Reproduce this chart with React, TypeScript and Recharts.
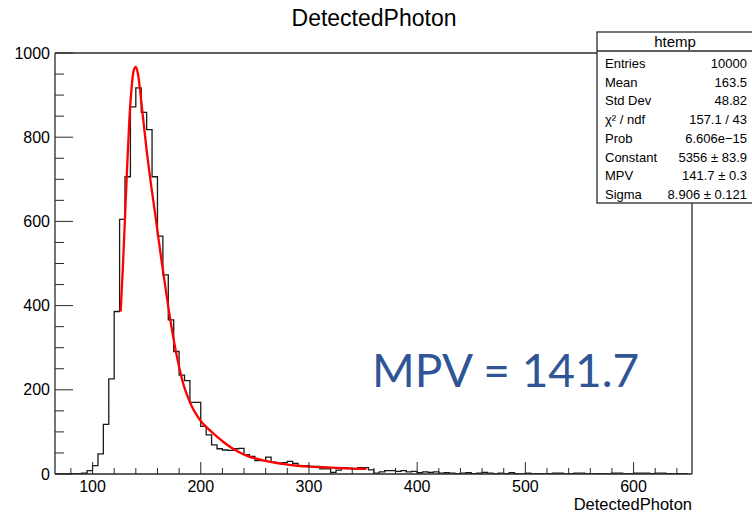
import React from "react";
import { ComposedChart, Line, XAxis, YAxis, ReferenceLine } from "recharts";

// Histogram bins (lower edges) and counts
const BIN_LOW = [
  65, 70, 75, 80, 85, 90, 95, 100, 105, 110, 115, 120, 125, 130, 135, 140, 145, 150, 155, 160,
  165, 170, 175, 180, 185, 190, 195, 200, 205, 210, 215, 220, 225, 230, 235, 240, 245, 250, 255, 260,
  265, 270, 275, 280, 285, 290, 295, 300, 305, 310, 315, 320, 325, 330, 335, 340, 345, 350, 355, 360,
  365, 370, 375, 380, 385, 390, 395, 400, 405, 410, 415, 420, 425, 430, 435, 440, 445, 450, 455, 460,
  465, 470, 475, 480, 485, 490, 495, 500, 505, 510, 515, 520, 525, 530, 535, 540, 545, 550, 555, 560,
  565, 570, 575, 580, 585, 590, 595, 600, 605, 610, 615, 620, 625, 630, 635, 640, 645,
];
const COUNTS = [
  0, 0, 1, 0, 1, 2, 8, 20, 48, 118, 226, 386, 605, 706, 872, 917, 859, 818, 706, 565,
  473, 366, 291, 235, 222, 170, 170, 113, 93, 69, 60, 57, 56, 60, 61, 46, 42, 32, 32, 40,
  28, 26, 27, 30, 25, 20, 20, 18, 18, 12, 12, 4, 9, 15, 14, 12, 15, 15, 10, 2,
  5, 8, 8, 6, 8, 5, 6, 3, 5, 4, 5, 2, 3, 2, 1, 2, 3, 1, 2, 4,
  2, 1, 2, 1, 3, 1, 0, 2, 1, 1, 0, 1, 2, 2, 0, 1, 2, 2, 1, 0,
  1, 1, 1, 2, 2, 1, 1, 2, 2, 2, 1, 2, 2, 1, 0, 1, 1,
];
const HIST_END = 650;

// Landau fit curve
const FIT_X = [
  126, 128, 130, 132, 134, 136, 138, 140, 142, 144, 146, 148, 150, 152, 155, 158, 160, 164, 168, 172,
  176, 180, 184, 188, 192, 196, 200, 205, 210, 215, 221, 228, 236, 244, 252, 260, 268, 276, 284, 292,
  300, 313, 329, 353,
];
const FIT_Y = [
  386, 490, 610, 730, 840, 915, 958, 967, 950, 910, 862, 815, 769, 727, 670, 615, 577, 502, 432, 364,
  305, 254, 213, 183, 159, 141, 126, 112, 100, 89, 76, 63, 51, 42, 36, 31, 27, 24, 21, 19,
  17.5, 16, 14, 12,
];

const X_DOMAIN: [number, number] = [65.3, 654];
const Y_DOMAIN: [number, number] = [0, 1000];
const X_TICKS = [80, 100, 120, 140, 160, 180, 200, 220, 240, 260, 280, 300, 320, 340, 360, 380, 400, 420, 440, 460, 480, 500, 520, 540, 560, 580, 600, 620, 640];
const X_MAJOR = [100, 200, 300, 400, 500, 600];
const Y_TICKS = [0, 50, 100, 150, 200, 250, 300, 350, 400, 450, 500, 550, 600, 650, 700, 750, 800, 850, 900, 950, 1000];
const Y_MAJOR = [0, 200, 400, 600, 800, 1000];

const TITLE = "DetectedPhoton";
const X_TITLE = "DetectedPhoton";
const STATS_NAME = "htemp";
const STATS_LABELS = ["Entries", "Mean", "Std Dev", "χ² / ndf", "Prob", "Constant", "MPV", "Sigma"];
const STATS_VALUES = ["10000", "163.5", "48.82", "157.1 / 43", "6.606e\u221215", "5356 \u00b1 83.9", "141.7 \u00b1 0.3", "8.906 \u00b1 0.121"];
const ANNOTATION = "MPV = 141.7";

const histData = [
  ...BIN_LOW.map((x, i) => ({ x, count: COUNTS[i] })),
  { x: HIST_END, count: COUNTS[COUNTS.length - 1] },
];
const fitData = FIT_X.map((x, i) => ({ x, fit: FIT_Y[i] }));

const FONT = "'Liberation Sans', Arial, Helvetica, sans-serif";
const AXIS_COLOR = "#2a2a2a";

const XTick = (props: any) => {
  const { x, y, payload } = props;
  const v = payload.value;
  const major = X_MAJOR.includes(v);
  return (
    <g>
      <line x1={x} y1={y} x2={x} y2={y - (major ? 12 : 6)} stroke={AXIS_COLOR} strokeWidth={1} />
      {major && (
        <text x={x} y={y + 18} textAnchor="middle" fontFamily={FONT} fontSize={16} fill="#000">
          {v}
        </text>
      )}
    </g>
  );
};

const YTick = (props: any) => {
  const { x, y, payload } = props;
  const v = payload.value;
  const major = Y_MAJOR.includes(v);
  return (
    <g>
      <line x1={x} y1={y} x2={x + (major ? 18 : 9)} y2={y} stroke={AXIS_COLOR} strokeWidth={1} />
      {major && (
        <text x={x - 5} y={y + 5.5} textAnchor="end" fontFamily={FONT} fontSize={16} fill="#000">
          {v}
        </text>
      )}
    </g>
  );
};

export default function App() {
  const rowY0 = 68;
  const rowStep = 18.7;
  return (
    <div style={{ position: "absolute", left: 0, top: 0, width: 752, height: 513, background: "#fff" }}>
      <ComposedChart width={752} height={513} margin={{ top: 53, right: 60, bottom: 0, left: 0 }}>
        <XAxis
          type="number"
          dataKey="x"
          domain={X_DOMAIN}
          allowDataOverflow
          ticks={X_TICKS}
          interval={0}
          tick={<XTick />}
          tickLine={false}
          tickSize={0}
          tickMargin={0}
          height={39}
          axisLine={{ stroke: AXIS_COLOR, strokeWidth: 1.3 }}
        />
        <YAxis
          type="number"
          domain={Y_DOMAIN}
          allowDataOverflow
          ticks={Y_TICKS}
          interval={0}
          tick={<YTick />}
          tickLine={false}
          tickSize={0}
          tickMargin={0}
          width={55}
          axisLine={{ stroke: AXIS_COLOR, strokeWidth: 1.3 }}
        />
        <ReferenceLine y={Y_DOMAIN[1]} stroke={AXIS_COLOR} strokeWidth={1.3} />
        <ReferenceLine x={X_DOMAIN[1]} stroke={AXIS_COLOR} strokeWidth={1.3} />
        <Line
          data={histData}
          dataKey="count"
          type="stepAfter"
          stroke="#1a1a1a"
          strokeWidth={1.3}
          dot={false}
          activeDot={false}
          isAnimationActive={false}
        />
        <Line
          data={fitData}
          dataKey="fit"
          type="monotone"
          stroke="#ff0000"
          strokeWidth={2.3}
          dot={false}
          activeDot={false}
          isAnimationActive={false}
        />
      </ComposedChart>
      <svg width={752} height={513} style={{ position: "absolute", left: 0, top: 0, pointerEvents: "none" }}>
        <text x={374} y={26} textAnchor="middle" fontFamily={FONT} fontSize={23} fill="#000">
          {TITLE}
        </text>
        <text x={692} y={510} textAnchor="end" fontFamily={FONT} fontSize={16.5} fill="#000">
          {X_TITLE}
        </text>
        <text x={372} y={387} fontFamily="Lato, 'Open Sans', sans-serif" fontSize={46} fill="#2F5597">
          {ANNOTATION}
        </text>
        <rect x={597} y={32} width={160} height={171} fill="#fff" stroke={AXIS_COLOR} strokeWidth={1.3} />
        <line x1={597} y1={51} x2={752} y2={51} stroke={AXIS_COLOR} strokeWidth={1.3} />
        <text x={675} y={46.5} textAnchor="middle" fontFamily={FONT} fontSize={15} fill="#000">
          {STATS_NAME}
        </text>
        {STATS_LABELS.map((l, i) => (
          <text key={l} x={605} y={rowY0 + i * rowStep} fontFamily={FONT} fontSize={13} fill="#000">
            {l}
          </text>
        ))}
        {STATS_VALUES.map((v, i) => (
          <text key={i} x={747} y={rowY0 + i * rowStep} textAnchor="end" fontFamily={FONT} fontSize={13} fill="#000">
            {v}
          </text>
        ))}
      </svg>
    </div>
  );
}
